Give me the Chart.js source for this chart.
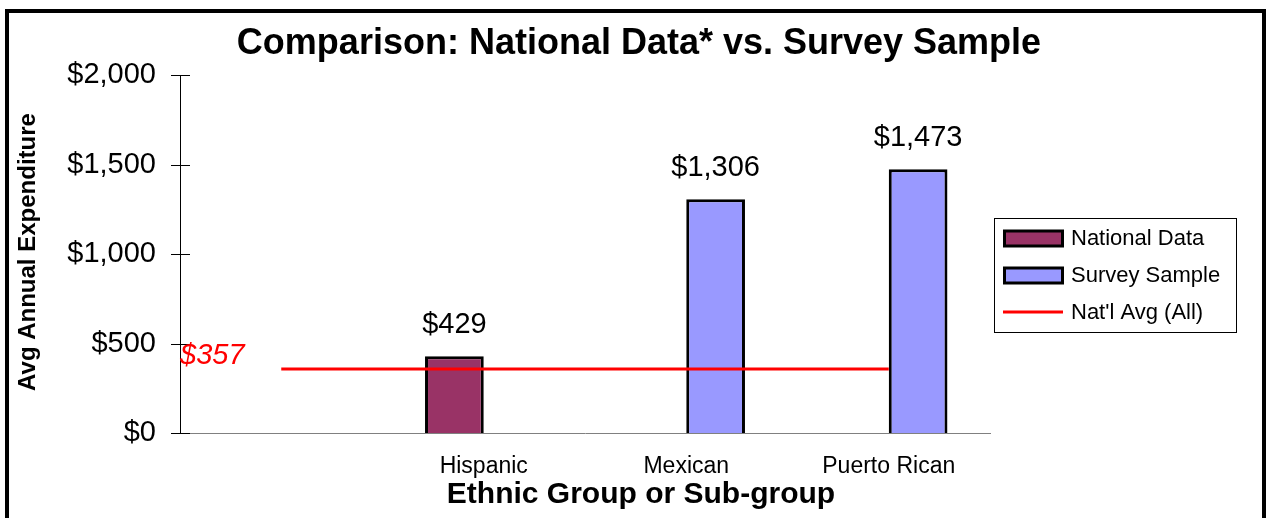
<!DOCTYPE html>
<html>
<head>
<meta charset="utf-8">
<title>Comparison: National Data vs. Survey Sample</title>
<script src="https://cdn.jsdelivr.net/npm/chart.js@4.4.0/dist/chart.umd.min.js"></script>
<style>
    html, body { margin: 0; padding: 0; background: #ffffff; }
    #wrap { width: 1268px; height: 518px; }
</style>
</head>
<body>
<div id="wrap"><canvas id="compareChart" width="1268" height="518"></canvas></div>
<script>
// chart data
const groups = ['', 'Hispanic', 'Mexican', 'Puerto Rican'];
const nationalData = [null, 429, null, null];
const surveySample = [null, null, 1306, 1473];
const natlAvg = [357, 357, 357, 357];
const yTicks = [0, 500, 1000, 1500, 2000];

const chartTitle = 'Comparison: National Data* vs. Survey Sample';
const xTitle = 'Ethnic Group or Sub-group';
const yTitle = 'Avg Annual Expenditure';

const FONT = "'Liberation Sans', Arial, Helvetica, sans-serif";
Chart.defaults.font.family = FONT;
Chart.defaults.color = '#000000';

const money = v => '$' + Number(v).toLocaleString('en-US');

// frame, titles, y tick marks, value labels and legend box
const decorPlugin = {
    id: 'decor',
    afterDraw(chart) {
        const ctx = chart.ctx;
        const area = chart.chartArea;
        const yScale = chart.scales.y;
        ctx.save();

        // outer frame
        ctx.strokeStyle = '#000000';
        ctx.lineWidth = 4;
        ctx.strokeRect(7, 11, 1257, 600);

        // main title
        ctx.fillStyle = '#000000';
        ctx.font = 'bold 36px ' + FONT;
        ctx.textAlign = 'center';
        ctx.textBaseline = 'alphabetic';
        ctx.fillText(chartTitle, 639, 54);

        // x axis title
        ctx.font = 'bold 30px ' + FONT;
        ctx.fillText(xTitle, 641, 503);

        // y axis title
        ctx.save();
        ctx.translate(35, 252);
        ctx.rotate(-Math.PI / 2);
        ctx.font = 'bold 24px ' + FONT;
        ctx.fillText(yTitle, 0, 0);
        ctx.restore();

        // y tick marks crossing the axis
        ctx.strokeStyle = '#000000';
        ctx.lineWidth = 1;
        yScale.ticks.forEach(t => {
            const py = Math.round(yScale.getPixelForValue(t.value)) + 0.5;
            ctx.beginPath();
            ctx.moveTo(171, py);
            ctx.lineTo(190, py);
            ctx.stroke();
        });

        // value labels above the bars
        ctx.font = '29px ' + FONT;
        ctx.textAlign = 'center';
        ctx.textBaseline = 'middle';
        chart.data.datasets.forEach((ds, i) => {
            if (ds.type === 'line') return;
            const meta = chart.getDatasetMeta(i);
            meta.data.forEach((bar, j) => {
                const v = ds.data[j];
                if (v === null || v === undefined) return;
                ctx.fillText(money(v), bar.x, bar.y - 31);
            });
        });

        // national average label
        const avgIdx = chart.data.datasets.findIndex(d => d.type === 'line');
        const avgMeta = chart.getDatasetMeta(avgIdx);
        ctx.fillStyle = '#ff0000';
        ctx.font = 'italic 29px ' + FONT;
        ctx.textAlign = 'left';
        ctx.fillText(money(natlAvg[0]), area.left, avgMeta.data[0].y - 13);

        // legend
        const lx = 994, ly = 218, lw = 242, lh = 114;
        ctx.fillStyle = '#ffffff';
        ctx.fillRect(lx, ly, lw, lh);
        ctx.strokeStyle = '#000000';
        ctx.lineWidth = 1;
        ctx.strokeRect(lx + 0.5, ly + 0.5, lw, lh);

        const legendOrder = [1, 2, 0];
        const rowY = [238, 275, 312];
        ctx.font = '22px ' + FONT;
        ctx.textBaseline = 'middle';
        legendOrder.forEach((dsIdx, r) => {
            const ds = chart.data.datasets[dsIdx];
            const cy = rowY[r];
            if (ds.type === 'line') {
                ctx.strokeStyle = ds.borderColor;
                ctx.lineWidth = 3;
                ctx.beginPath();
                ctx.moveTo(1003, cy);
                ctx.lineTo(1063, cy);
                ctx.stroke();
            } else {
                ctx.fillStyle = ds.backgroundColor;
                ctx.fillRect(1004.5, cy - 7, 58, 15);
                ctx.strokeStyle = '#000000';
                ctx.lineWidth = 3;
                ctx.strokeRect(1004.5, cy - 7, 58, 15);
            }
            ctx.fillStyle = '#000000';
            ctx.textAlign = 'left';
            ctx.fillText(ds.label, 1071, cy + 1);
        });

        ctx.restore();
    }
};

const ctx = document.getElementById('compareChart').getContext('2d');
new Chart(ctx, {
    data: {
        labels: groups,
        datasets: [
            {
                type: 'line',
                label: "Nat'l Avg (All)",
                data: natlAvg,
                borderColor: '#ff0000',
                borderWidth: 3,
                pointRadius: 0,
                tension: 0,
                order: 0
            },
            {
                type: 'bar',
                label: 'National Data',
                data: nationalData,
                backgroundColor: '#993366',
                borderColor: '#000000',
                borderWidth: 3,
                categoryPercentage: 0.58,
                barPercentage: 1.0,
                order: 1
            },
            {
                type: 'bar',
                label: 'Survey Sample',
                data: surveySample,
                backgroundColor: '#9999ff',
                borderColor: '#000000',
                borderWidth: 3,
                categoryPercentage: 0.58,
                barPercentage: 1.0,
                order: 1
            }
        ]
    },
    options: {
        responsive: false,
        animation: false,
        layout: { padding: { top: 75, right: 278, bottom: 0, left: 0 } },
        plugins: {
            legend: { display: false },
            title: { display: false },
            tooltip: { enabled: false }
        },
        scales: {
            x: {
                offset: true,
                grid: { display: false, drawTicks: false },
                border: { display: true, color: '#808080', width: 1 },
                ticks: {
                    font: { size: 23 },
                    color: '#000000',
                    padding: 20,
                    maxRotation: 0,
                    autoSkip: false
                },
                afterFit: s => { s.height = 85; }
            },
            y: {
                min: 0,
                max: 2000,
                grid: { display: false, drawTicks: false },
                border: { display: true, color: '#000000', width: 1 },
                afterBuildTicks: s => { s.ticks = yTicks.map(v => ({ value: v })); },
                ticks: {
                    font: { size: 29 },
                    color: '#000000',
                    padding: 24,
                    callback: v => money(v)
                },
                afterFit: s => { s.width = 180; }
            }
        }
    },
    plugins: [decorPlugin]
});
</script>
</body>
</html>
